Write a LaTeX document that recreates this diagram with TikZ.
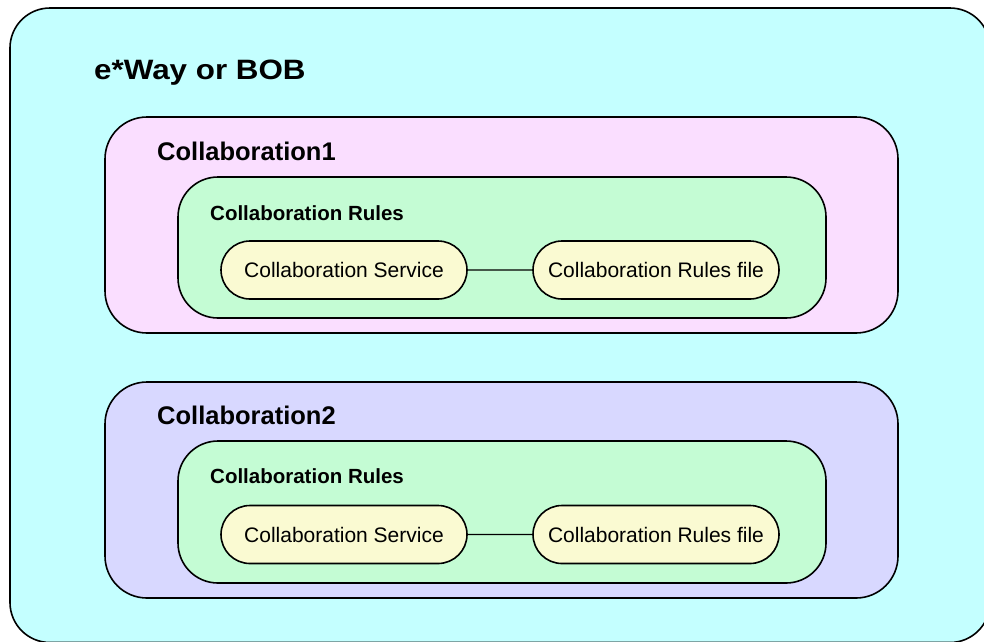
\documentclass[tikz,border=0pt]{standalone}
\usepackage{fontspec}
\setmainfont{Liberation Sans}
\newfontfamily\titlefont[FakeStretch=1.12]{Liberation Sans}
\definecolor{outerc}{RGB}{196,255,255}
\definecolor{pinkc}{RGB}{250,222,255}
\definecolor{lavc}{RGB}{216,216,255}
\definecolor{greenc}{RGB}{196,252,212}
\definecolor{yellc}{RGB}{250,250,210}
\tikzset{
  boxline/.style={draw=black, line width=1.6pt},
  outerbox/.style={boxline, fill=outerc, rounded corners=40pt},
  collbox/.style={boxline, rounded corners=42pt},
  rulesbox/.style={boxline, fill=greenc, rounded corners=40pt},
  pill/.style={boxline, fill=yellc, rounded rectangle, minimum width=246pt, minimum height=58pt, inner sep=0pt, font=\fontsize{21}{24}\selectfont},
  conn/.style={draw=black, line width=1.4pt},
  titlelbl/.style={anchor=base west, inner sep=0pt, font=\titlefont\bfseries\fontsize{28}{32}\selectfont},
  colllbl/.style={anchor=base west, inner sep=0pt, font=\bfseries\fontsize{25.5}{30}\selectfont},
  ruleslbl/.style={anchor=base west, inner sep=0pt, font=\bfseries\fontsize{20.5}{24}\selectfont}
}
\usetikzlibrary{shapes.misc}
\begin{document}
\begin{tikzpicture}[x=1pt,y=-1pt]
\useasboundingbox (0,0) rectangle (984,641);
\clip (0,0) rectangle (984,641);
\path[outerbox] (10,8) rectangle (990,642.5);
\node[titlelbl] (title) at (94,79) {e*Way or BOB};
% Collaboration 1
\path[collbox, fill=pinkc] (105,117) rectangle (898,333);
\node[colllbl] (c1) at (157,160) {Collaboration1};
\path[rulesbox] (178,177) rectangle (826,318);
\node[ruleslbl] (r1) at (210,220) {Collaboration Rules};
\node[pill] (s1) at (344,270) {Collaboration Service};
\node[pill] (f1) at (656,270) {Collaboration Rules file};
\draw[conn] (s1) -- (f1);
% Collaboration 2
\path[collbox, fill=lavc] (105,382) rectangle (898,598);
\node[colllbl] (c2) at (157,424) {Collaboration2};
\path[rulesbox] (178,441) rectangle (826,583);
\node[ruleslbl] (r2) at (210,483) {Collaboration Rules};
\node[pill] (s2) at (344,534.5) {Collaboration Service};
\node[pill] (f2) at (656,534.5) {Collaboration Rules file};
\draw[conn] (s2) -- (f2);
\end{tikzpicture}
\end{document}
